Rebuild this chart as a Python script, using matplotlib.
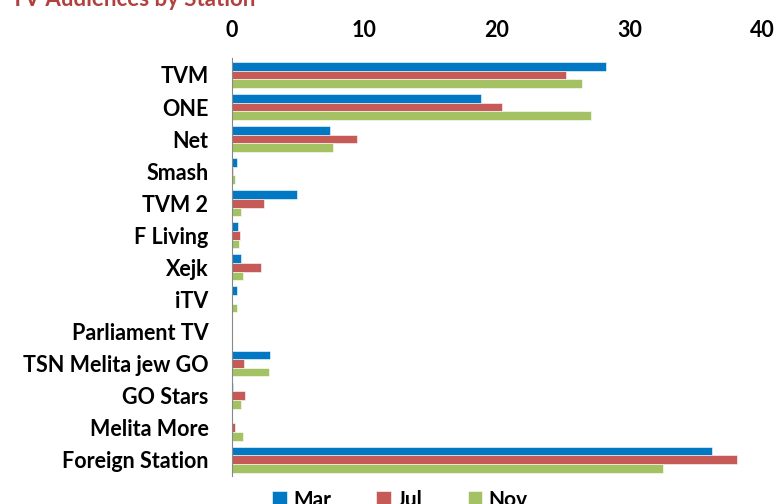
import matplotlib.pyplot as plt
import numpy as np

plt.rcParams['font.family'] = ['Lato', 'DejaVu Sans']

# Data
stations = ['TVM', 'ONE', 'Net', 'Smash', 'TVM 2', 'F Living', 'Xejk', 'iTV',
            'Parliament TV', 'TSN Melita jew GO', 'GO Stars', 'Melita More',
            'Foreign Station']
months = ['Mar', 'Jul', 'Nov']
mar = [28.2, 18.8, 7.4, 0.4, 4.9, 0.45, 0.7, 0.4, 0.0, 2.9, 0.1, 0.0, 36.2]
jul = [25.2, 20.4, 9.4, 0.1, 2.4, 0.6, 2.2, 0.0, 0.0, 0.9, 1.0, 0.2, 38.1]
nov = [26.4, 27.1, 7.6, 0.2, 0.7, 0.5, 0.85, 0.4, 0.0, 2.8, 0.7, 0.8, 32.5]
colors = ['#0078C4', '#C55A57', '#A4C264']

fig = plt.figure(figsize=(7.82, 5.04), dpi=100)
ax = fig.add_axes([232 / 782, (504 - 476) / 504, (762 - 232) / 782, (476 - 58) / 504])

y = np.arange(len(stations))
h = 0.27
for k, (vals, lab, c) in enumerate(zip([mar, jul, nov], months, colors)):
    ax.barh(y + (k - 1) * h, vals, height=h, color=c, label=lab,
            edgecolor='white', linewidth=0.4)

ax.set_xlim(0, 40)
ax.set_ylim(len(stations) - 0.49, -0.53)
ax.set_yticks(y)
ax.set_yticklabels(stations, fontsize=15.5, fontweight='bold')
ax.set_xticks([0, 10, 20, 30, 40])
ax.xaxis.tick_top()
ax.tick_params(axis='x', length=0, labelsize=15.5, pad=12)
ax.tick_params(axis='y', length=0, pad=17)
for lbl in ax.get_xticklabels():
    lbl.set_fontweight('bold')

for s in ['top', 'right', 'bottom']:
    ax.spines[s].set_visible(False)
ax.spines['left'].set_color('#888888')
ax.spines['left'].set_linewidth(0.8)

# Title (cut off at top)
fig.text(255 / 782, 1.0, 'TV Audiences by Station', ha='right', va='center',
         fontsize=16, fontweight='bold', color='#B0413E')

# Legend (cut off at bottom)
fig.legend(loc='center', bbox_to_anchor=(400 / 782, 4 / 504), ncol=3,
           frameon=False, handlelength=0.7, handleheight=0.7,
           handletextpad=0.3, columnspacing=2.15,
           prop={'weight': 'bold', 'size': 15})

plt.savefig('out.png', dpi=100)
